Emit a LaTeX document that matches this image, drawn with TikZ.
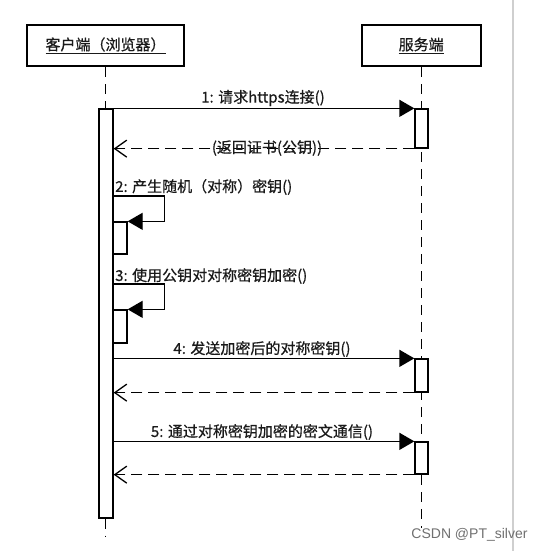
\documentclass[tikz,border=0pt]{standalone}
\usepackage{fontspec}
\setmainfont{Liberation Sans}
\newfontfamily\cjk[FakeBold=0.6]{Noto Sans CJK SC}
\usetikzlibrary{arrows.meta}
\definecolor{ink}{HTML}{1A1A1A}
\definecolor{wm}{HTML}{707070}
\definecolor{rule}{HTML}{CFCFCF}
\tikzset{
  actor/.style={draw=black, line width=2.2pt, inner sep=0pt, minimum height=41pt, fill=white, font=\cjk\fontsize{15}{17}\selectfont, text=ink},
  actbar/.style={draw=black, fill=white, line width=1.3pt, inner sep=0pt},
  life/.style={draw=black, line width=1.3pt, dash pattern=on 10pt off 7pt},
  msg/.style={draw=black, line width=1.3pt, -{Triangle[length=15pt,width=17pt]}},
  ret/.style={draw=black, line width=1.3pt, dash pattern=on 11pt off 6pt, -{Straight Barb[length=12pt,width=17pt]}},
  lbl/.style={inner sep=0pt, text=ink, font=\cjk\fontsize{15}{17}\selectfont},
}
\begin{document}
\begin{tikzpicture}[x=1pt,y=-1pt]
\useasboundingbox (0,0) rectangle (542,551);
\fill[white] (0,0) rectangle (542,551);

% actors
\node[actor, minimum width=157pt] (client) at (105.5,45.5) {\underline{客户端（浏览器）}};
\node[actor, minimum width=119pt] (server) at (421.2,45.5) {\underline{服务端}};

% lifeline ends
\coordinate (cend) at (105.5,537);
\coordinate (send) at (421.2,528);

% server lifeline (behind bars)
\draw[life] (server.south) -- (send);

% activation bars
\node[actbar, minimum width=14pt, minimum height=409pt] (cbar) at (106,313.5) {};
\node[actbar, minimum width=13pt, minimum height=39pt] (sbar1) at (421.5,128.5) {};
\node[actbar, minimum width=13pt, minimum height=33pt] (sbar2) at (421.5,375.5) {};
\node[actbar, minimum width=13pt, minimum height=32pt] (sbar3) at (421.5,458) {};
\node[actbar, minimum width=14pt, minimum height=32pt] (nb1) at (120,238) {};
\node[actbar, minimum width=14pt, minimum height=33pt] (nb2) at (120,326.5) {};

% client lifeline
\draw[life] (client.south) -- (client.south |- cbar.north);
\draw[life] (client.south |- cbar.south) -- (cend);

% message 1
\draw[msg] (cbar.east |- sbar1.north) -- (sbar1.north west);
\node[lbl] (m1) at (263,98) {1: 请求https连接()};
\draw[ret] (sbar1.south west) -- (cbar.east |- sbar1.south);
\node[lbl] (r1) at (267,148) {(返回证书(公钥))};

% message 2 (self call)
\coordinate (l2a) at (113,196);
\draw[msg] (cbar.east |- l2a) -- ++(51,0) |- (nb1.north east);
\node[lbl, anchor=west] (m2) at (115,187) {2: 产生随机（对称）密钥()};

% message 3 (self call)
\coordinate (l3a) at (113,284);
\draw[msg] (cbar.east |- l3a) -- ++(51,0) |- (nb2.north east);
\node[lbl, anchor=west] (m3) at (115,276) {3: 使用公钥对对称密钥加密()};

% message 4
\draw[msg] (cbar.east |- sbar2.north) -- (sbar2.north west);
\node[lbl] (m4) at (262,349) {4: 发送加密后的对称密钥()};
\draw[ret] (sbar2.south west) -- (cbar.east |- sbar2.south);

% message 5
\draw[msg] (cbar.east |- sbar3.north) -- (sbar3.north west);
\node[lbl] (m5) at (262,432) {5: 通过对称密钥加密的密文通信()};
\draw[ret] (sbar3.south west) -- (cbar.east |- sbar3.south);

% page rule and watermark
\draw[rule, line width=1.5pt] (513,0) -- (513,551);
\node[inner sep=0pt, text=wm, font=\fontsize{14}{16}\selectfont] (wmk) at (469.5,535) {CSDN @PT\_silver};
\end{tikzpicture}
\end{document}
